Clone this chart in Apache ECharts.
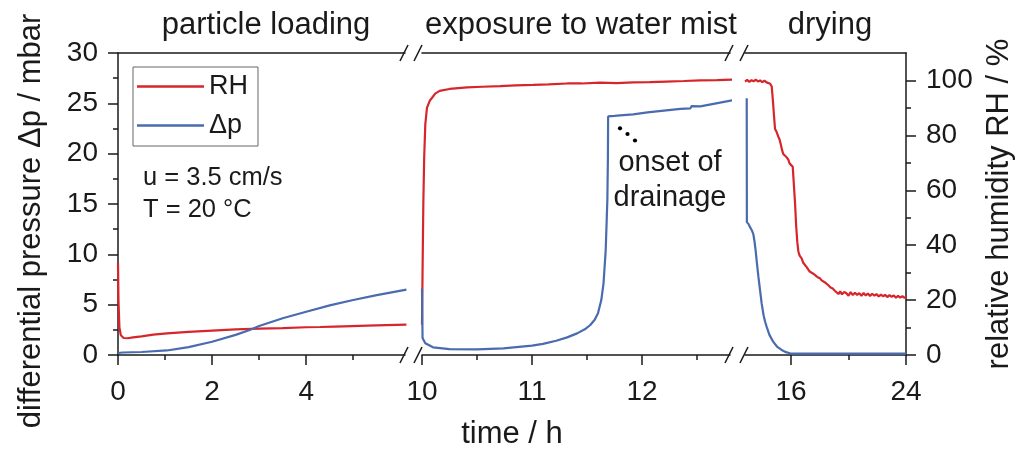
<!DOCTYPE html>
<html><head><meta charset="utf-8">
<script src="https://cdn.jsdelivr.net/npm/echarts@6/dist/echarts.min.js"></script>
<style>html,body{margin:0;padding:0;background:#fff}#c{width:1032px;height:450px}</style>
</head><body><div id="c"></div>
<script>
// ---- data (time in h) ----
const loadRange = [0, 6.1];
const mistRange = [10, 12.8];
const dryRange = [12.8, 24];
const loadTicks = [0, 2, 4], loadMinor = [1, 3, 5];
const mistTicks = [10, 11, 12], mistMinor = [10.5, 11.5, 12.5];
const dryTicks = [16, 24], dryMinor = [20];
const rhTicks = [0, 20, 40, 60, 80, 100], rhMinor = [10, 30, 50, 70, 90];

const rhLoading = [[0,33.5],[0.01,20],[0.03,10],[0.06,7.2],[0.12,6.2],[0.2,6.1],[0.32,6.4],[0.5,6.8],[0.75,7.4],[1.04,7.9],[1.5,8.4],[2.0,8.9],[2.5,9.3],[3.0,9.6],[3.5,9.8],[4.0,10.1],[4.3,10.2],[4.32,10.7],[4.34,10.25],[4.6,10.35],[4.8,10.45],[4.82,10.8],[4.84,10.5],[5.3,10.7],[5.7,10.9],[6.13,11.1]];
const dpLoading = [[0,0.2],[0.1,0.25],[0.5,0.3],[1.04,0.45],[1.5,0.78],[2.0,1.32],[2.5,2.0],[2.8,2.48],[3.0,2.88],[3.5,3.65],[4.0,4.3],[4.5,4.93],[5.0,5.46],[5.5,5.95],[6.13,6.5]];
const rhMist = [[10.0,11.0],[10.005,30],[10.012,55],[10.02,72],[10.03,84],[10.045,90],[10.07,92.6],[10.09,93.6],[10.12,95.2],[10.16,96.2],[10.25,96.9],[10.41,97.5],[10.55,97.7],[10.71,97.9],[10.85,98.2],[11.01,98.4],[11.15,98.6],[11.32,98.9],[11.45,98.9],[11.62,99.2],[11.77,99.0],[11.92,99.3],[12.07,99.4],[12.22,99.6],[12.38,99.8],[12.53,100.0],[12.68,100.1],[12.82,100.3]];
const dpMist = [[10.0,6.6],[10.005,1.7],[10.03,1.16],[10.1,0.76],[10.25,0.58],[10.5,0.56],[10.74,0.66],[11.0,0.93],[11.1,1.1],[11.22,1.42],[11.32,1.75],[11.41,2.15],[11.48,2.55],[11.53,2.98],[11.57,3.5],[11.6,4.14],[11.63,5.46],[11.65,7.1],[11.67,10.4],[11.68,13.7],[11.685,15.4],[11.69,19.5],[11.692,23.7],[11.75,23.75],[11.8,23.8],[11.92,23.9],[12.05,24.1],[12.22,24.3],[12.35,24.45],[12.44,24.5],[12.45,24.72],[12.46,24.55],[12.53,24.7],[12.65,24.95],[12.82,25.3]];
const rhDrying = [[12.8,99.6],[12.95,100.2],[13.1,99.5],[13.25,100.1],[13.4,99.7],[13.55,100.3],[13.7,99.6],[13.85,100.0],[14.0,99.4],[14.15,99.9],[14.3,99.3],[14.42,99.5],[14.55,98.8],[14.66,97.8],[14.75,92],[14.82,87],[14.89,82.3],[15.0,81.2],[15.12,79.5],[15.2,78.6],[15.3,76.5],[15.38,74.6],[15.46,73.2],[15.55,72.8],[15.7,72.0],[15.81,71.2],[15.9,69.8],[16.0,69.2],[16.12,68.6],[16.2,62],[16.28,55.5],[16.36,47],[16.44,41],[16.51,37.8],[16.6,36.2],[16.74,35.2],[16.85,33.6],[16.95,33.0],[17.09,32.0],[17.2,31.6],[17.3,30.4],[17.42,30.9],[17.55,29.6],[17.7,29.0],[17.85,28.3],[18.0,28.0],[18.13,27.2],[18.25,27.6],[18.4,26.3],[18.5,26.0],[18.6,25.4],[18.75,24.6],[18.9,24.2],[19.05,23.4],[19.18,23.0],[19.3,22.2],[19.42,23.2],[19.55,22.1],[19.7,23.0],[19.87,22.4],[20.0,21.6],[20.15,22.9],[20.3,21.8],[20.45,22.7],[20.6,21.9],[20.75,22.5],[20.9,21.6],[21.05,22.6],[21.2,21.7],[21.35,22.4],[21.5,21.5],[21.65,22.3],[21.8,21.6],[21.95,22.2],[22.1,21.3],[22.25,22.0],[22.4,21.4],[22.55,21.9],[22.7,21.1],[22.85,21.8],[23.0,21.2],[23.15,21.7],[23.3,20.9],[23.45,21.5],[23.6,20.9],[23.75,21.4],[23.9,20.8],[24.0,21.1]];
const dpDrying = [[12.92,25.5],[12.93,13.2],[13.05,13.0],[13.15,12.7],[13.27,12.4],[13.38,12.0],[13.46,11.3],[13.54,10.4],[13.63,9.1],[13.73,7.8],[13.85,6.4],[13.96,5.1],[14.1,3.9],[14.2,3.3],[14.31,2.8],[14.5,2.0],[14.77,1.3],[15.05,0.8],[15.35,0.5],[15.65,0.28],[15.93,0.17],[16.5,0.13],[18,0.13],[20,0.14],[22,0.13],[24,0.13]];

// ---- style ----
const FONT = '"Liberation Sans", Arial, Helvetica, sans-serif';
const INK = '#1a1a1a';
const RED = '#d7262b', BLUE = '#4a6bb0';
const AX = {color: INK, width: 1.5};
const gridRects = [
  {left: 118, top: 53, width: 287, height: 302},
  {left: 422, top: 53, width: 308, height: 302},
  {left: 745, top: 53, width: 161, height: 302}
];

function mainX(gi, range, major) {
  return [
    {type:'value', gridIndex:gi, min:range[0], max:range[1], position:'bottom',
     axisLine:{show:true, onZero:false, lineStyle:AX},
     axisTick:{show:true, inside:false, length:10, customValues:major, lineStyle:AX},
     axisLabel:{show:true, customValues:major, margin:23, fontSize:28, color:INK, fontFamily:FONT},
     splitLine:{show:false}},
    {type:'value', gridIndex:gi, min:range[0], max:range[1], position:'top',
     axisLine:{show:true, onZero:false, lineStyle:AX},
     axisTick:{show:false}, axisLabel:{show:false}, splitLine:{show:false}}
  ];
}
function minorX(gi, range, minor) {
  return {type:'value', gridIndex:gi, min:range[0], max:range[1], position:'bottom',
    axisLine:{show:false, onZero:false},
    axisTick:{show:true, inside:false, length:5, customValues:minor, lineStyle:AX},
    axisLabel:{show:false}, splitLine:{show:false}};
}
function hiddenY(gi, max, pos) {
  return {type:'value', gridIndex:gi, min:0, max:max, position:pos, show:false,
    axisLine:{onZero:false}, splitLine:{show:false}};
}

const xAxis = [].concat(
  mainX(0, loadRange, loadTicks),
  mainX(1, mistRange, mistTicks),
  mainX(2, dryRange, dryTicks),
  [minorX(3, loadRange, loadMinor), minorX(4, mistRange, mistMinor), minorX(5, dryRange, dryMinor)]
);
const yAxis = [
  {type:'value', gridIndex:0, min:0, max:30, interval:5, position:'left',
   axisLine:{show:true, onZero:false, lineStyle:AX},
   axisTick:{show:true, inside:false, length:10, lineStyle:AX},
   minorTick:{show:true, splitNumber:2, length:5, lineStyle:AX},
   axisLabel:{margin:20, fontSize:28, color:INK, fontFamily:FONT},
   splitLine:{show:false}, minorSplitLine:{show:false}},
  hiddenY(0, 110, 'right'),
  hiddenY(1, 30, 'left'),
  hiddenY(1, 110, 'right'),
  hiddenY(2, 30, 'left'),
  {type:'value', gridIndex:2, min:0, max:110, position:'right',
   axisLine:{show:true, onZero:false, lineStyle:AX},
   axisTick:{show:true, inside:false, length:10, customValues:rhTicks, lineStyle:AX},
   axisLabel:{customValues:rhTicks, margin:20, fontSize:28, color:INK, fontFamily:FONT},
   splitLine:{show:false}},
  hiddenY(3, 30, 'left'),
  hiddenY(4, 30, 'left'),
  {type:'value', gridIndex:5, min:0, max:110, position:'right',
   axisLine:{show:false, onZero:false},
   axisTick:{show:true, inside:false, length:5, customValues:rhMinor, lineStyle:AX},
   axisLabel:{show:false}, splitLine:{show:false}}
];

function line(name, data, xi, yi, color) {
  return {type:'line', name:name, data:data, xAxisIndex:xi, yAxisIndex:yi,
    showSymbol:false, symbol:'none', clip:false, color:color,
    lineStyle:{color:color, width:2.2}, emphasis:{disabled:true}};
}

const chart = echarts.init(document.getElementById('c'), null, {renderer:'canvas'});
chart.setOption({
  animation:false,
  backgroundColor:'#fff',
  grid: gridRects.concat(gridRects),
  xAxis: xAxis,
  yAxis: yAxis,
  legend: {data:['RH','Δp'], orient:'vertical', left:133, top:67, icon:'rect',
    itemWidth:67, itemHeight:2.5, itemGap:12, padding:[6,10,7,4],
    borderColor:'#666', borderWidth:1, selectedMode:false,
    textStyle:{fontSize:27, color:INK, fontFamily:FONT}},
  series: [
    line('RH', rhLoading, 0, 1, RED),
    line('RH', rhMist, 2, 3, RED),
    line('RH', rhDrying, 4, 5, RED),
    line('Δp', dpLoading, 0, 0, BLUE),
    line('Δp', dpMist, 2, 2, BLUE),
    line('Δp', dpDrying, 4, 4, BLUE)
  ]
});

// ---- annotations & axis breaks ----
function txt(s, x, y, size, align, rot) {
  return {type:'text', x:x, y:y, rotation:rot || 0, z:50,
    style:{text:s, fill:INK, font: size + 'px ' + FONT, textAlign:align || 'center', textVerticalAlign:'middle'}};
}
const g = [
  txt('particle loading', 266, 25, 31),
  txt('exposure to water mist', 581, 25, 31),
  txt('drying', 830, 25, 31),
  txt('u = 3.5 cm/s', 143, 178, 25.5, 'left'),
  txt('T = 20 °C', 143, 209.5, 25.5, 'left'),
  txt('onset of', 670, 163, 29),
  txt('drainage', 670, 198, 29),
  txt('time / h', 512, 434, 31),
  txt('differential pressure Δp / mbar', 31, 221, 31, 'center', Math.PI/2),
  txt('relative humidity RH / %', 999, 204, 31, 'center', Math.PI/2)
];
[[620,128.3],[627.5,134],[635,140.5]].forEach(function(p){
  g.push({type:'circle', shape:{cx:p[0], cy:p[1], r:2.1}, style:{fill:'#000'}, z:50});
});
const yTop = chart.convertToPixel({yAxisIndex:0}, 30);
const yBot = chart.convertToPixel({yAxisIndex:0}, 0);
const e1 = chart.convertToPixel({xAxisIndex:0}, loadRange[1]);
const s2 = chart.convertToPixel({xAxisIndex:2}, mistRange[0]);
const e2 = chart.convertToPixel({xAxisIndex:2}, mistRange[1]);
const s3 = chart.convertToPixel({xAxisIndex:4}, dryRange[0]);
[e1 - 1, s2 - 4, e2 - 1, s3 - 1].forEach(function(cx){
  [yTop, yBot].forEach(function(cy){
    g.push({type:'line', shape:{x1:cx-4, y1:cy+8, x2:cx+4, y2:cy-8}, style:{stroke:INK, lineWidth:1.5}, z:50});
  });
});
chart.setOption({graphic: g});
</script></body></html>
